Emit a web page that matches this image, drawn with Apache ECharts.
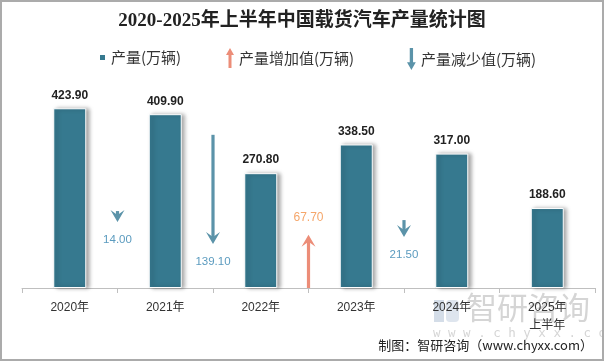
<!DOCTYPE html>
<html><head><meta charset="utf-8">
<script src="https://cdn.jsdelivr.net/npm/echarts@6/dist/echarts.min.js"></script>
<style>html,body{margin:0;padding:0;background:#fff}#c{width:604px;height:361px}</style>
</head><body><div id="c"></div>
<script>
// ---- data ----
const categories = ['2020年', '2021年', '2022年', '2023年', '2024年', '2025年\n上半年'];
const production = [423.9, 409.9, 270.8, 338.5, 317.0, 188.6];
// change between consecutive periods (arrow drawn at boundary after category i)
const decrease = [14.0, 139.1, null, 21.5, null];
const decreaseOffset = [84, 56, null, 65, null]; // invisible helper (secondary axis) below the down arrows
const increase = [null, null, 67.7, null, null];

const BLUE = '#36798f', DOWN = '#5b93a9', UP = '#ec8d78';
const downData = [], upData = [];
decrease.forEach((v, i) => { if (v != null) downData.push([i, decreaseOffset[i], v]); });
increase.forEach((v, i) => { if (v != null) upData.push([i, 0, v]); });

function head(x, yTip, dir, color) {
  const w = 7, h = 12, n = 7;
  return {
    type: 'polygon',
    shape: { points: [[x, yTip], [x + w, yTip - dir * h], [x, yTip - dir * n], [x - w, yTip - dir * h]] },
    style: { fill: color }
  };
}
function renderDown(params, api) {
  const i = api.value(0), base = api.value(1), val = api.value(2);
  const half = api.size([1, 0])[0] / 2;
  const tip = api.coord([i, base]), top = api.coord([i, base + val]);
  const x = tip[0] + half;
  const children = [];
  if (tip[1] - top[1] > 8) {
    children.push({ type: 'rect', shape: { x: x - 1.6, y: top[1], width: 3.2, height: tip[1] - top[1] - 6 }, style: { fill: DOWN } });
  }
  children.push(head(x, tip[1], 1, DOWN));
  children.push({ type: 'text', style: { text: val.toFixed(2), x: x, y: tip[1] + 18, align: 'center', verticalAlign: 'middle', fill: '#5b9bbf', font: '11.5px "Liberation Sans", Arial' } });
  return { type: 'group', children };
}
function renderUp(params, api) {
  const i = api.value(0), base = api.value(1), val = api.value(2);
  const half = api.size([1, 0])[0] / 2;
  const b = api.coord([i, base]), tip = api.coord([i, base + val]);
  const x = b[0] + half;
  return { type: 'group', children: [
    { type: 'rect', shape: { x: x - 1.6, y: tip[1] + 6, width: 3.2, height: b[1] - tip[1] - 6 }, style: { fill: UP } },
    head(x, tip[1], -1, UP),
    { type: 'text', style: { text: val.toFixed(2), x: x, y: tip[1] - 17, align: 'center', verticalAlign: 'middle', fill: '#f5a66a', font: '12px "Liberation Sans", Arial' } }
  ] };
}

const chart = echarts.init(document.getElementById('c'));
const legendText = { fontSize: 15, color: '#333', fontFamily: '"Noto Sans CJK SC", sans-serif' };
chart.setOption({
  animation: false,
  title: {
    text: '2020-2025年上半年中国载货汽车产量统计图', left: 'center', top: 7,
    textStyle: { fontSize: 19, fontWeight: 'bold', color: '#222', fontFamily: '"Liberation Serif", "Noto Sans CJK SC", serif' }
  },
  legend: [
    { data: [{ name: '产量(万辆)', icon: 'rect' }], left: 93, top: 45, itemWidth: 7, itemHeight: 7, textStyle: legendText, selectedMode: false },
    { data: [{ name: '产量增加值(万辆)', icon: 'path://M4,0 L8,7 L5.5,7 L5.5,20 L2.5,20 L2.5,7 L0,7 Z' }], left: 221, top: 43, itemWidth: 8, itemHeight: 20, textStyle: legendText, selectedMode: false },
    { data: [{ name: '产量减少值(万辆)', icon: 'path://M4,20 L8,13 L5.5,13 L5.5,0 L2.5,0 L2.5,13 L0,13 Z' }], left: 402, top: 43, itemWidth: 9, itemHeight: 22, textStyle: legendText, selectedMode: false }
  ],
  grid: { left: 22, right: 9, top: 76, bottom: 73 },
  xAxis: {
    type: 'category', data: categories,
    axisLine: { lineStyle: { color: '#bfbfbf' } },
    axisTick: { show: true, length: 5, lineStyle: { color: '#bfbfbf' } },
    axisLabel: { color: '#333', fontSize: 12, margin: 11, lineHeight: 18, fontFamily: '"Liberation Sans", "Noto Sans CJK SC", sans-serif' }
  },
  yAxis: [
    { type: 'value', min: 0, max: 500, show: false },
    { type: 'value', min: 0, max: 270, show: false }
  ],
  series: [
    {
      name: '产量(万辆)', type: 'bar', data: production, barWidth: 33,
      itemStyle: { color: BLUE, borderColor: '#fff', borderWidth: 1, shadowColor: 'rgba(0,0,0,0.35)', shadowBlur: 4, shadowOffsetX: 3, shadowOffsetY: 0 },
      label: { show: true, position: 'top', distance: 7, formatter: p => p.value.toFixed(2), color: '#222', fontSize: 12, fontWeight: 'bold', fontFamily: '"Liberation Sans", Arial' }
    },
    { name: '产量增加值(万辆)', type: 'custom', yAxisIndex: 1, data: upData, renderItem: renderUp, itemStyle: { color: UP }, encode: { x: 0, y: 2 }, z: 5 },
    { name: '产量减少值(万辆)', type: 'custom', yAxisIndex: 1, data: downData, renderItem: renderDown, itemStyle: { color: DOWN }, encode: { x: 0, y: 2 }, z: 5 }
  ],
  graphic: [
    { type: 'rect', shape: { x: 1, y: 1, width: 602, height: 359 }, style: { fill: 'none', stroke: '#ababab', lineWidth: 2 }, z: 100 },
    { type: 'rect', shape: { x: 434, y: 300, width: 10, height: 22 }, style: { fill: 'rgba(160,180,205,0.45)' }, z: 0 },
    { type: 'rect', shape: { x: 446, y: 300, width: 13, height: 22, r: 4 }, style: { fill: 'rgba(160,180,205,0.35)' }, z: 0 },
    { type: 'text', left: 466, top: 292, style: { text: '智研咨询', fill: 'rgba(150,150,150,0.4)', font: '31px "Noto Sans CJK SC", sans-serif' }, z: 0 },
    { type: 'text', left: 433, top: 327, style: { text: 'w w w . c h y x x . c o m', fill: 'rgba(150,150,150,0.4)', font: '12.5px "DejaVu Sans Mono", monospace' }, z: 0 },
    { type: 'text', right: 11, top: 339, style: { text: '制图：智研咨询（www.chyxx.com）', fill: '#222', font: '13px "Noto Sans CJK SC", sans-serif' }, z: 10 }
  ]
});
</script></body></html>
